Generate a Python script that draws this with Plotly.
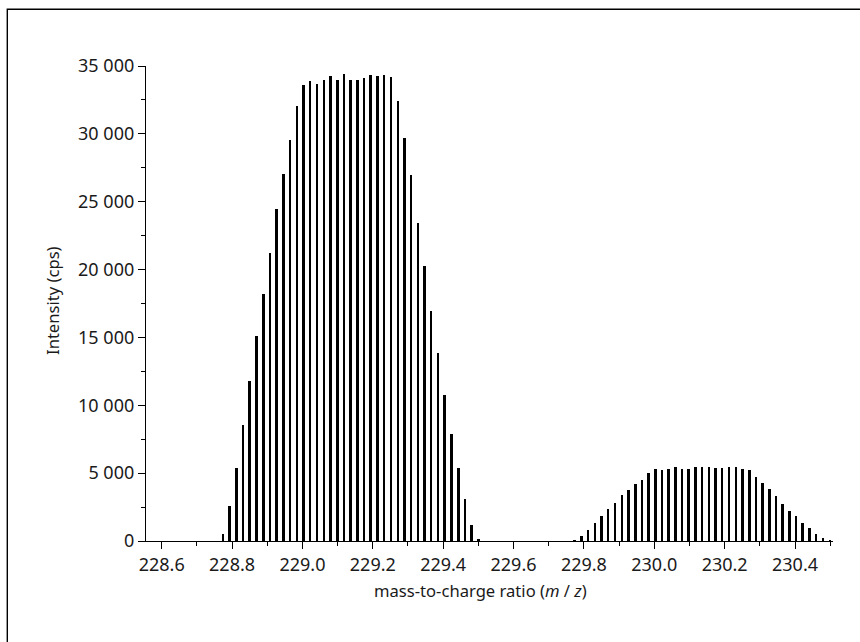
import plotly.graph_objects as go

# Isotope peak 1 (m/z 228.77 - 229.50)
mz_peak1 = [228.774, 228.793, 228.812, 228.831, 228.850, 228.870, 228.889, 228.908,
            228.927, 228.946, 228.965, 228.984, 229.003, 229.022, 229.041, 229.061,
            229.080, 229.099, 229.118, 229.137, 229.156, 229.175, 229.194, 229.213,
            229.232, 229.252, 229.271, 229.290, 229.309, 229.328, 229.347, 229.366,
            229.385, 229.404, 229.423, 229.443, 229.462, 229.481, 229.500]
cps_peak1 = [545, 2557, 5408, 8577, 11767, 15082, 18228, 21220, 24440, 27070,
             29575, 32029, 33628, 33871, 33650, 33944, 34291, 33944, 34386, 33996,
             33944, 34091, 34312, 34260, 34335, 34165, 32448, 29693, 26944, 23408,
             20262, 16924, 13881, 10735, 7913, 5408, 3124, 1157, 100]

# Isotope peak 2 (m/z 229.77 - 230.50)
mz_peak2 = [229.774, 229.793, 229.812, 229.831, 229.850, 229.869, 229.888, 229.908,
            229.927, 229.946, 229.965, 229.984, 230.003, 230.022, 230.041, 230.060,
            230.079, 230.098, 230.117, 230.136, 230.155, 230.174, 230.193, 230.213,
            230.232, 230.251, 230.270, 230.289, 230.308, 230.327, 230.346, 230.365,
            230.384, 230.403, 230.422, 230.441, 230.460, 230.479, 230.499]
cps_peak2 = [50, 344, 786, 1302, 1870, 2334, 2776, 3417, 3785, 4176, 4522, 4987,
             5282, 5208, 5305, 5480, 5282, 5305, 5480, 5430, 5430, 5406, 5406, 5480,
             5480, 5333, 5208, 4693, 4251, 3809, 3293, 2727, 2237, 1820, 1304, 936,
             516, 221, 50]

x_ticks = [228.6, 228.8, 229.0, 229.2, 229.4, 229.6, 229.8, 230.0, 230.2, 230.4]
y_ticks = [0, 5000, 10000, 15000, 20000, 25000, 30000, 35000]

FONT = "Noto Sans, Liberation Sans, sans-serif"
TEXT = "#1a1a1a"

fig = go.Figure()
fig.add_trace(go.Bar(x=mz_peak1 + mz_peak2, y=cps_peak1 + cps_peak2,
                     width=0.0072, marker=dict(color="black", line=dict(width=0)),
                     showlegend=False))

W, H = 860, 642
ML, MR, MT, MB = 146, 27, 66, 101
pw, ph = W - ML - MR, H - MT - MB


def px_x(p):
    return (p - ML) / pw


def px_y(p):
    return (H - MB - p) / ph


fig.update_layout(
    width=W, height=H,
    margin=dict(l=ML, r=MR, t=MT, b=MB, pad=0),
    paper_bgcolor="white", plot_bgcolor="white",
    separators=". ",
    font=dict(family=FONT, size=18, color=TEXT),
    bargap=0,
    xaxis=dict(
        range=[228.5554, 230.508], showgrid=False, zeroline=False,
        showline=True, linecolor="black", linewidth=1.3,
        ticks="outside", ticklen=7, tickwidth=1.2, tickcolor="black",
        tickvals=x_ticks, tickformat=".1f",
        minor=dict(dtick=0.1, tick0=228.6, ticks="outside", ticklen=4,
                   tickwidth=1.2, tickcolor="black"),
        tickfont=dict(family=FONT, size=18, color=TEXT),
    ),
    yaxis=dict(
        range=[0, 35000], showgrid=False, zeroline=False,
        showline=True, linecolor="black", linewidth=1.3,
        ticks="outside", ticklen=7, tickwidth=1.2, tickcolor="black",
        tickvals=y_ticks, tickformat=",d",
        minor=dict(dtick=2500, tick0=0, ticks="outside", ticklen=4,
                   tickwidth=1.2, tickcolor="black"),
        tickfont=dict(family=FONT, size=18, color=TEXT),
    ),
    shapes=[
        dict(type="rect", xref="paper", yref="paper",
             x0=px_x(7.3), x1=px_x(880), y0=px_y(9.3), y1=px_y(680),
             line=dict(color="black", width=1.4), fillcolor="rgba(0,0,0,0)",
             layer="above"),
    ],
    annotations=[
        dict(text="Intensity (cps)", xref="paper", yref="paper",
             x=px_x(52), y=px_y(301), textangle=-90, showarrow=False,
             xanchor="center", yanchor="middle",
             font=dict(family=FONT, size=16.6, color=TEXT)),
        dict(text="mass-to-charge ratio (<i>m</i> / <i>z</i>)", xref="paper", yref="paper",
             x=px_x(480), y=px_y(590), showarrow=False,
             xanchor="center", yanchor="middle",
             font=dict(family=FONT, size=16.6, color=TEXT)),
    ],
)

fig.write_html("out.html")
